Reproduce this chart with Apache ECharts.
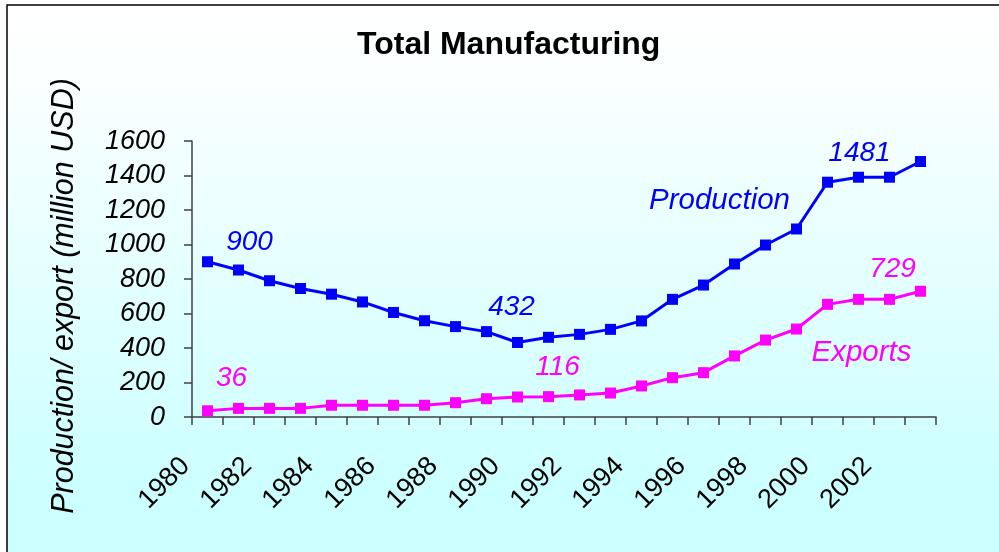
<!DOCTYPE html>
<html>
<head>
<meta charset="utf-8">
<script src="https://cdn.jsdelivr.net/npm/echarts@6/dist/echarts.min.js"></script>
<style>
  html, body { margin: 0; padding: 0; background: #fff; }
  #chart { width: 999px; height: 552px; }
</style>
</head>
<body>
<div id="chart"></div>
<script>
// data
const years = ["1980", "1981", "1982", "1983", "1984", "1985", "1986", "1987", "1988", "1989", "1990", "1991",
  "1992", "1993", "1994", "1995", "1996", "1997", "1998", "1999", "2000", "2001", "2002", "2003"];
const production = [900, 852, 790, 745, 712, 667, 606, 558, 524, 495, 432, 462,
  479, 508, 557, 682, 765, 887, 997, 1090, 1361, 1390, 1390, 1481];
const exportsData = [36, 50, 50, 50, 68, 68, 68, 68, 83, 106, 116, 118,
  128, 139, 180, 228, 257, 354, 446, 510, 653, 682, 682, 729];
const yTicks = [0, 200, 400, 600, 800, 1000, 1200, 1400, 1600];

const blue = "#0000ff";
const pink = "#ff00ff";
const font = "Liberation Sans";

// labels put on single points: index -> [text, offset, size]
const prodNotes = {
  0: ["900", [42, -20], 28],
  10: ["432", [-6, -35], 28],
  17: ["Production", [-15, -63], 29.5],
  23: ["1481", [-61, -8], 28],
};
const expNotes = {
  0: ["36", [24, -33], 28],
  10: ["116", [40, -30], 28],
  21: ["Exports", [3, 53], 29.5],
  23: ["729", [-28, -22], 28],
};

function withNotes(values, notes, color) {
  return values.map((v, i) => {
    if (!notes[i]) return v;
    return {
      value: v,
      label: {
        show: true,
        position: "inside",
        formatter: notes[i][0],
        offset: notes[i][1],
        color: color,
        fontFamily: font,
        fontStyle: "italic",
        fontSize: notes[i][2],
      },
    };
  });
}

const chart = echarts.init(document.getElementById("chart"));

chart.setOption({
  backgroundColor: "#ffffff",
  animation: false,
  title: {
    text: "Total Manufacturing",
    left: 357,
    top: 29,
    padding: 0,
    textStyle: { fontFamily: font, fontWeight: "bold", fontSize: 32, color: "#000" },
  },
  graphic: [
    {
      type: "rect",
      z: -10,
      shape: { x: 7, y: 5, width: 1100, height: 600 },
      style: {
        fill: {
          type: "linear", x: 0, y: 0, x2: 0, y2: 1,
          colorStops: [
            { offset: 0, color: "#ffffff" },
            { offset: 0.12, color: "#fbffff" },
            { offset: 0.8, color: "#ccffff" },
            { offset: 1, color: "#ccffff" },
          ],
        },
        stroke: "#000",
        lineWidth: 1.5,
      },
    },
    {
      type: "text",
      x: 65,
      y: 296,
      rotation: Math.PI / 2,
      style: {
        text: "Production/ export (million USD)",
        font: "italic 30.5px " + font,
        fill: "#000",
        align: "center",
        verticalAlign: "middle",
      },
    },
  ],
  grid: { left: 192, right: 63, top: 141, bottom: 135, containLabel: false },
  xAxis: {
    type: "category",
    data: years,
    boundaryGap: true,
    axisLine: { lineStyle: { color: "#404040", width: 1.5 } },
    axisTick: { show: true, interval: 0, length: 8, alignWithLabel: false, lineStyle: { color: "#404040", width: 1.5 } },
    axisLabel: {
      interval: 1,
      rotate: 45,
      margin: 23,
      padding: [0, 31, 0, 0],
      color: "#000",
      fontFamily: font,
      fontSize: 27,
    },
    splitLine: { show: false },
  },
  yAxis: {
    type: "value",
    min: yTicks[0],
    max: yTicks[yTicks.length - 1],
    interval: yTicks[1] - yTicks[0],
    axisLine: { show: true, lineStyle: { color: "#404040", width: 1.5 } },
    axisTick: { show: true, length: 8, lineStyle: { color: "#404040", width: 1.5 } },
    axisLabel: {
      margin: 27,
      formatter: (v) => String(v),
      color: "#000",
      fontFamily: font,
      fontStyle: "italic",
      fontSize: 27,
    },
    splitLine: { show: false },
  },
  series: [
    {
      name: "Production",
      type: "line",
      data: withNotes(production, prodNotes, blue),
      symbol: "rect",
      symbolSize: 11,
      lineStyle: { color: blue, width: 3 },
      itemStyle: { color: blue },
      label: { show: false },
    },
    {
      name: "Exports",
      type: "line",
      data: withNotes(exportsData, expNotes, pink),
      symbol: "rect",
      symbolSize: 11,
      lineStyle: { color: pink, width: 3 },
      itemStyle: { color: pink },
      label: { show: false },
    },
  ],
});
</script>
</body>
</html>
